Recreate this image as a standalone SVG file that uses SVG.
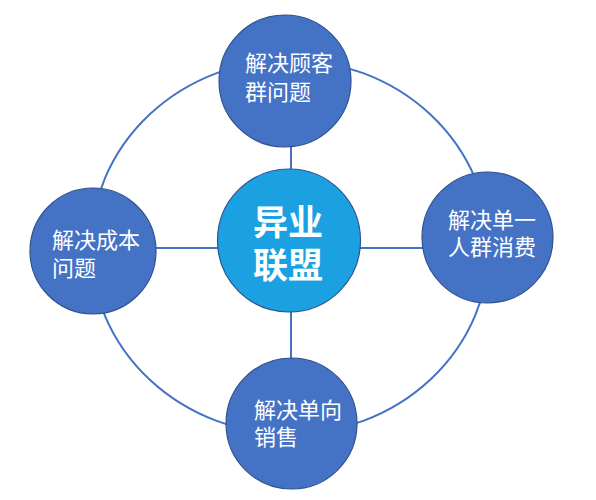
<svg xmlns="http://www.w3.org/2000/svg" width="596" height="500" viewBox="0 0 596 500">
<style>
.ln{fill:none;stroke:#4472C4;stroke-width:2}
.nd{fill:#4472C4;stroke:#2F528F;stroke-width:1.2}
.ct{fill:#1BA1E2;stroke:#2F528F;stroke-width:1.2}
.t{fill:#fff;font-family:"Noto Sans CJK SC","Noto Sans",sans-serif;font-size:22px}
.tc{fill:#fff;font-family:"Noto Sans CJK SC","Noto Sans",sans-serif;font-size:35px;font-weight:bold}
</style>
<rect width="596" height="500" fill="#fff"/>
<g id="connectors">
<ellipse class="ln" cx="290" cy="247" rx="199" ry="187"/>
<line class="ln" x1="291" y1="140" x2="291" y2="365"/>
<line class="ln" x1="150" y1="248" x2="430" y2="248"/>
</g>
<g id="top">
<circle class="nd" cx="285" cy="81" r="66"/>
<text class="t" x="245" y="71">解决顾客</text>
<text class="t" x="245" y="100">群问题</text>
</g>
<g id="left">
<circle class="nd" cx="93" cy="251" r="63"/>
<text class="t" x="52" y="248">解决成本</text>
<text class="t" x="52" y="276">问题</text>
</g>
<g id="right">
<circle class="nd" cx="487.5" cy="237.5" r="65.5"/>
<text class="t" x="448" y="228">解决单一</text>
<text class="t" x="448" y="255">人群消费</text>
</g>
<g id="bottom">
<circle class="nd" cx="291.5" cy="423.5" r="65.5"/>
<text class="t" x="254" y="418">解决单向</text>
<text class="t" x="254" y="445">销售</text>
</g>
<g id="center">
<circle class="ct" cx="289" cy="240.5" r="71.5"/>
<text class="tc" x="253" y="235">异业</text>
<text class="tc" x="253" y="278">联盟</text>
</g>
</svg>
